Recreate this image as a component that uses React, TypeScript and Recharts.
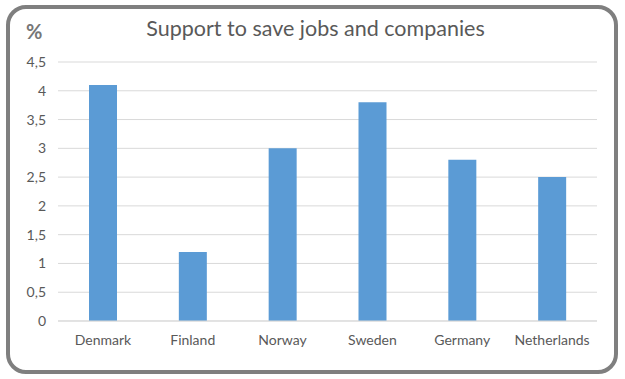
import { BarChart, Bar, XAxis, YAxis, CartesianGrid } from 'recharts';

const countries = ['Denmark', 'Finland', 'Norway', 'Sweden', 'Germany', 'Netherlands'];
const supportPct = [4.1, 1.2, 3.0, 3.8, 2.8, 2.5];
const yTicks = [0, 0.5, 1, 1.5, 2, 2.5, 3, 3.5, 4, 4.5];

const chartData = countries.map((name, i) => ({ name, value: supportPct[i] }));

if (typeof document !== 'undefined') {
    document.body.style.margin = '0';
}

const font = 'Lato, "Open Sans", sans-serif';

export default function App() {
    return (
        <div style={{ position: 'relative', width: 625, height: 379, background: '#fff', fontFamily: font }}>
            <div
                style={{
                    position: 'absolute',
                    left: 6,
                    top: 5,
                    width: 612,
                    height: 369,
                    boxSizing: 'border-box',
                    border: '4px solid #7f7f7f',
                    borderRadius: 20,
                }}
            />
            <div
                style={{
                    position: 'absolute',
                    left: 0,
                    width: 625,
                    top: 15,
                    textAlign: 'center',
                    fontSize: 21.5,
                    color: '#595959',
                    paddingLeft: 3,
                }}
            >
                Support to save jobs and companies
            </div>
            <div
                style={{
                    position: 'absolute',
                    left: 26,
                    top: 19,
                    fontSize: 20,
                    fontWeight: 'bold',
                    color: '#767676',
                }}
            >
                %
            </div>
            <div style={{ position: 'absolute', left: 0, top: 0 }}>
                <BarChart
                    width={625}
                    height={379}
                    data={chartData}
                    margin={{ top: 62, right: 28, bottom: 28, left: 0 }}
                >
                    <CartesianGrid vertical={false} stroke="#d9d9d9" />
                    <XAxis
                        dataKey="name"
                        height={30}
                        tickLine={false}
                        stroke="#d9d9d9"
                        tickMargin={8}
                        tick={{ fill: '#595959', fontSize: 14, fontFamily: font }}
                    />
                    <YAxis
                        width={58}
                        domain={[0, 4.5]}
                        ticks={yTicks}
                        axisLine={false}
                        tickLine={false}
                        tickMargin={6}
                        tickFormatter={(v: number) => String(v).replace('.', ',')}
                        tick={{ fill: '#595959', fontSize: 14, fontFamily: font }}
                    />
                    <Bar dataKey="value" fill="#5b9bd5" barSize={28} isAnimationActive={false} />
                </BarChart>
            </div>
        </div>
    );
}
